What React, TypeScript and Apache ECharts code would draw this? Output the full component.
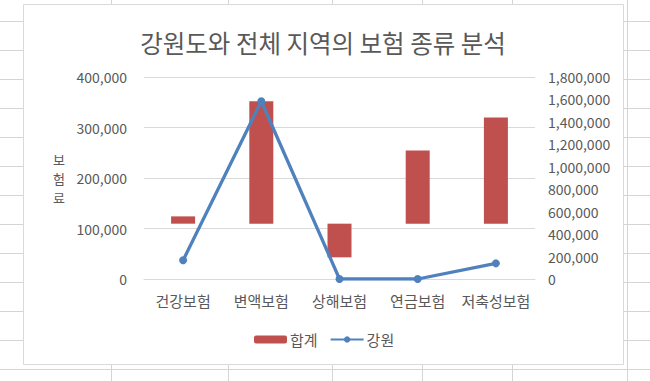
import React, { useEffect, useRef } from "react";
import * as echarts from "echarts";

const categories = ["건강보험", "변액보험", "상해보험", "연금보험", "저축성보험"];
const totalValues = [558000, 1584000, 193000, 1144000, 1439000]; // 합계 (right axis)
const gangwonValues = [37000, 352000, 0, 0, 31000]; // 강원 (left axis)
const barBaseValue = 493000; // bars float from this value on the right axis
const leftTicks = { min: 0, max: 400000, interval: 100000 };
const rightTicks = { min: 0, max: 1800000, interval: 200000 };
const yAxisTitleChars = ["보", "험", "료"];

const FONT = "'Noto Sans CJK KR', 'Noto Sans', sans-serif";
const TXT = "#595959";

export default function App() {
  const ref = useRef<HTMLDivElement>(null);
  useEffect(() => {
    document.body.style.margin = "0";
    if (!ref.current) return;
    const chart = echarts.init(ref.current, null, { renderer: "svg" });

    // spreadsheet background
    const bg: any[] = [];
    const colXs = [111.5, 228.5, 332.5, 422.5, 512.5, 627.5];
    colXs.forEach((x) =>
      bg.push({ type: "line", z: -20, silent: true, shape: { x1: x, y1: 0, x2: x, y2: 381 }, style: { stroke: "#D4D4D4", lineWidth: 1 } })
    );
    for (let y = 21.5; y < 381; y += 29) {
      bg.push({ type: "line", z: -20, silent: true, shape: { x1: 0, y1: y, x2: 650, y2: y }, style: { stroke: "#D4D4D4", lineWidth: 1 } });
    }
    bg.push({
      type: "rect", z: -10, silent: true,
      shape: { x: 23.5, y: 4.5, width: 600, height: 360 },
      style: { fill: "#FFFFFF", stroke: "#D9D9D9", lineWidth: 1 },
    });
    bg.push({
      type: "text", z: 10, x: 323, y: 42,
      style: { text: "강원도와 전체 지역의 보험 종류 분석", fontSize: 24.5, fontFamily: FONT, fill: TXT, align: "center", verticalAlign: "middle" },
    });
    yAxisTitleChars.forEach((ch, i) =>
      bg.push({
        type: "text", z: 10, x: 59, y: 159.5 + i * 19,
        style: { text: ch, fontSize: 13, lineHeight: 13, fontFamily: FONT, fill: TXT, align: "center", verticalAlign: "middle" },
      })
    );

    const helper = totalValues.map((v) => Math.min(v, barBaseValue));
    const visible = totalValues.map((v) => Math.abs(v - barBaseValue));

    chart.setOption({
      animation: false,
      textStyle: { fontFamily: FONT },
      graphic: bg,
      grid: { left: 144, right: 115, top: 77, bottom: 102 },
      legend: {
        data: ["합계", "강원"],
        left: 249,
        top: 327,
        itemWidth: 33,
        itemHeight: 8,
        itemGap: 12,
        textStyle: { fontSize: 15, color: TXT, fontFamily: FONT, padding: [0, 0, 0, -2] },
      },
      xAxis: {
        type: "category",
        data: categories,
        axisLine: { lineStyle: { color: "#D9D9D9" } },
        axisTick: { show: false },
        axisLabel: { color: TXT, fontSize: 15, margin: 14, fontFamily: FONT, interval: 0 },
      },
      yAxis: [
        {
          type: "value",
          min: leftTicks.min, max: leftTicks.max, interval: leftTicks.interval,
          axisLine: { show: false }, axisTick: { show: false },
          splitLine: { lineStyle: { color: "#D9D9D9" } },
          axisLabel: { color: TXT, fontSize: 14, margin: 17, fontFamily: FONT, formatter: (v: number) => v.toLocaleString("en-US") },
        },
        {
          type: "value",
          min: rightTicks.min, max: rightTicks.max, interval: rightTicks.interval,
          axisLine: { show: false }, axisTick: { show: false },
          splitLine: { show: false },
          axisLabel: { color: TXT, fontSize: 14, margin: 13, fontFamily: FONT, formatter: (v: number) => v.toLocaleString("en-US") },
        },
      ],
      series: [
        {
          name: "_base", type: "bar", stack: "t", yAxisIndex: 1, barWidth: 24,
          data: helper, itemStyle: { color: "transparent" }, silent: true,
        },
        {
          name: "합계", type: "bar", stack: "t", yAxisIndex: 1, barWidth: 24,
          data: visible, itemStyle: { color: "#C0504D" },
        },
        {
          name: "강원", type: "line", yAxisIndex: 0, z: 5,
          data: gangwonValues,
          symbol: "circle", symbolSize: 8,
          lineStyle: { color: "#4F81BD", width: 3.3 },
          itemStyle: { color: "#4F81BD" },
        },
      ],
    });
    return () => chart.dispose();
  }, []);
  return <div ref={ref} style={{ width: 650, height: 381 }} />;
}
